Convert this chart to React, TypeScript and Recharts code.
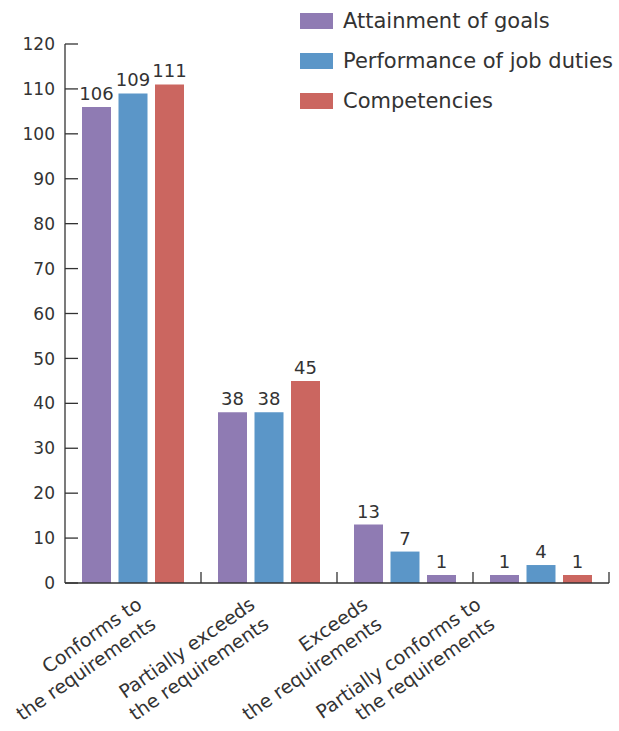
import React from 'react'
import { BarChart, Bar, XAxis, YAxis, LabelList, Cell } from 'recharts'

// rating categories, each label split in two lines
const categories = [
    ['Conforms to', 'the requirements'],
    ['Partially exceeds', 'the requirements'],
    ['Exceeds', 'the requirements'],
    ['Partially conforms to', 'the requirements'],
]
const goals = [106, 38, 13, 1]
const duties = [109, 38, 7, 4]
const competencies = [111, 45, 1, 1]
const yTicks = [0, 10, 20, 30, 40, 50, 60, 70, 80, 90, 100, 110, 120]

const seriesNames = ['Attainment of goals', 'Performance of job duties', 'Competencies']
const PURPLE = '#8f7bb3'
const BLUE = '#5b96c8'
const RED = '#cb6660'
const colors = [PURPLE, BLUE, RED]

const data = categories.map((c, i) => ({
    name: c.join(' '),
    goals: goals[i],
    duties: duties[i],
    competencies: competencies[i],
}))

const FONT = '"DejaVu Sans", sans-serif'
const TEXT = '#333'
const W = 619
const H = 731
const M = { top: 44, right: 10, left: 5, bottom: 8 }
const Y_W = 60
const BAND = (W - M.left - M.right - Y_W) / categories.length

const YTick = (props: any) => {
    const { x, y, payload } = props
    return (
        <g>
            <line x1={x} x2={x + 13} y1={y} y2={y} stroke={TEXT} strokeWidth={1.3} />
            <text x={x - 10} y={y} dy="0.36em" textAnchor="end" fontSize={17} fill={TEXT} fontFamily={FONT}>
                {payload.value}
            </text>
        </g>
    )
}

const XTick = (props: any) => {
    const { x, y, index } = props
    const lines = categories[index]
    const ax = x + 24 - 23 * index
    const ay = y + 44
    return (
        <g>
            <line x1={x + BAND / 2} x2={x + BAND / 2} y1={y} y2={y - 11} stroke={TEXT} strokeWidth={1.3} />
            <g transform={`translate(${ax},${ay}) rotate(-35)`}>
                <text textAnchor="end" fontSize={19} fill={TEXT} fontFamily={FONT}>
                    <tspan x={0} dy={-24}>{lines[0]}</tspan>
                    <tspan x={0} dy={24}>{lines[1]}</tspan>
                </text>
            </g>
        </g>
    )
}

// legend sits over the chart, it does not take room from the plot
const LegendBox = () => (
    <div style={{ position: 'absolute', left: 300, top: 1, fontFamily: FONT, fontSize: 21, color: TEXT }}>
        {seriesNames.map((n, i) => (
            <div key={n} style={{ display: 'flex', alignItems: 'center', height: 40 }}>
                <div style={{ width: 33, height: 16, background: colors[i], marginRight: 10 }} />
                <span style={{ whiteSpace: 'nowrap' }}>{n}</span>
            </div>
        ))}
    </div>
)

export default function App() {
    return (
        <div style={{ position: 'absolute', left: 0, top: 0, width: W, height: H }}>
            <BarChart width={W} height={H} data={data} margin={M} barSize={29} barGap={7.5}>
                <XAxis
                    dataKey="name"
                    interval={0}
                    height={140}
                    tickSize={0}
                    tickMargin={0}
                    tickLine={false}
                    tick={<XTick />}
                    stroke={TEXT}
                    strokeWidth={1.3}
                />
                <YAxis
                    width={Y_W}
                    domain={[0, 120]}
                    ticks={yTicks}
                    interval={0}
                    tickSize={0}
                    tickMargin={0}
                    tickLine={false}
                    tick={<YTick />}
                    stroke={TEXT}
                    strokeWidth={1.3}
                />
                <Bar dataKey="goals" fill={PURPLE} minPointSize={8} isAnimationActive={false}>
                    <LabelList dataKey="goals" position="top" offset={7} fontSize={18} fill={TEXT} fontFamily={FONT} />
                </Bar>
                <Bar dataKey="duties" fill={BLUE} minPointSize={8} isAnimationActive={false}>
                    <LabelList dataKey="duties" position="top" offset={7} fontSize={18} fill={TEXT} fontFamily={FONT} />
                </Bar>
                <Bar dataKey="competencies" fill={RED} minPointSize={8} isAnimationActive={false}>
                    {data.map((d, i) => (
                        <Cell key={d.name} fill={i === 2 ? PURPLE : RED} />
                    ))}
                    <LabelList dataKey="competencies" position="top" offset={7} fontSize={18} fill={TEXT} fontFamily={FONT} />
                </Bar>
            </BarChart>
            <LegendBox />
        </div>
    )
}
